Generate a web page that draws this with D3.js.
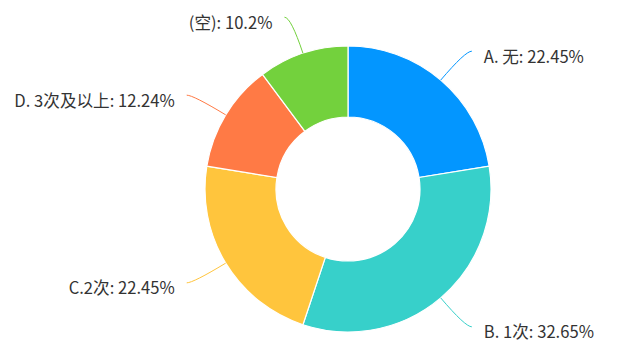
<!DOCTYPE html>
<html><head><meta charset="utf-8">
<script src="https://cdn.jsdelivr.net/npm/d3@7/dist/d3.min.js"></script>
<style>html,body{margin:0;padding:0;background:#fff;}svg{display:block;}</style>
</head><body><svg id="c" width="621" height="361"></svg>
<script>
const categories = ["A. 无", "B. 1次", "C.2次", "D. 3次及以上", "(空)"];
const counts = [11, 16, 11, 6, 5];
const percentLabels = ["22.45%", "32.65%", "22.45%", "12.24%", "10.2%"];
const colors = ["#0396FF", "#37D0CA", "#FFC53D", "#FF7A45", "#73D13D"];

const W = 621, H = 361, cx = 348, cy = 189, rOuter = 143, rInner = 72;
const svg = d3.select("#c");
const g = svg.append("g").attr("transform", `translate(${cx},${cy})`);
const pie = d3.pie().sort(null).value(d => d.v);
const data = categories.map((c, i) => ({c, v: counts[i], p: percentLabels[i], col: colors[i]}));
const arcs = pie(data);
const arc = d3.arc().innerRadius(rInner).outerRadius(rOuter);

g.selectAll("path.slice").data(arcs).join("path")
  .attr("class", "slice")
  .attr("d", arc)
  .attr("fill", d => d.data.col)
  .attr("stroke", "#fff").attr("stroke-width", 1.2);

const bendR = 181, len2 = 6.5, gap = 12;
arcs.forEach(a => {
  const m = (a.startAngle + a.endAngle) / 2;
  const sx = Math.sin(m), sy = -Math.cos(m);
  const p0 = [rOuter * sx, rOuter * sy];
  const p1 = [bendR * sx, bendR * sy];
  const side = sx >= 0 ? 1 : -1;
  const p2 = [p1[0] + side * len2, p1[1]];
  g.append("path")
    .attr("d", `M${p0[0]},${p0[1]} Q${p1[0]},${p1[1]} ${p2[0]},${p2[1]}`)
    .attr("fill", "none").attr("stroke", a.data.col).attr("stroke-width", 1);
  g.append("text")
    .attr("x", p2[0] + side * gap)
    .attr("y", p2[1] + 4.5)
    .attr("text-anchor", side > 0 ? "start" : "end")
    .attr("dominant-baseline", "central")
    .attr("font-family", "'Noto Sans CJK SC', 'Noto Sans', sans-serif")
    .attr("font-size", 16.6)
    .attr("fill", "#333")
    .text(`${a.data.c}: ${a.data.p}`);
});
</script></body></html>
